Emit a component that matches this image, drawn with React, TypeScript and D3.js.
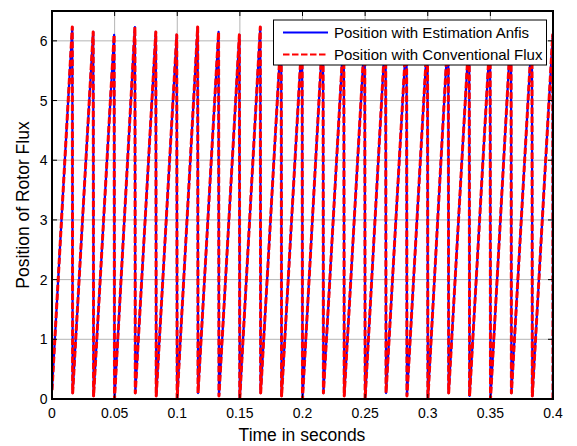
import React from "react";
import * as d3 from "d3";

const xTicks = [0, 0.05, 0.1, 0.15, 0.2, 0.25, 0.3, 0.35, 0.4];
const yTicks = [0, 1, 2, 3, 4, 5, 6];
const startValue = 0.15;
const peakTimes = [
  0.0162, 0.0329, 0.0496, 0.0662, 0.0829, 0.0996, 0.1163, 0.133, 0.1496, 0.1663, 0.183, 0.1997,
  0.2164, 0.233, 0.2497, 0.2664, 0.2831, 0.2998, 0.3164, 0.3331, 0.3498, 0.3665, 0.3832, 0.3998,
];
const peakValues = [
  6.23, 6.15, 6.1, 6.23, 6.15, 6.1, 6.23, 6.15, 6.1, 6.23, 6.15, 6.1,
  6.23, 6.15, 6.1, 6.23, 6.15, 6.1, 6.23, 6.15, 6.1, 6.23, 6.15, 6.1,
];
const resetTimes = [
  0.0165, 0.0332, 0.0499, 0.0665, 0.0832, 0.0999, 0.1166, 0.1333, 0.1499, 0.1666, 0.1833, 0.2,
  0.2167, 0.2333, 0.25, 0.2667, 0.2834, 0.3001, 0.3167, 0.3334, 0.3501, 0.3668, 0.3835, 0.4,
];
const resetValues = [
  0.1, 0.05, 0.0, 0.1, 0.05, 0.0, 0.1, 0.05, 0.0, 0.1, 0.05, 0.0,
  0.1, 0.05, 0.0, 0.1, 0.05, 0.0, 0.1, 0.05, 0.0, 0.1, 0.05, 0.0,
];
const legendLabels = ["Position with Estimation Anfis", "Position with Conventional Flux"];
const xLabel = "Time in seconds";
const yLabel = "Position of Rotor Flux";

type P = [number, number];
const series: P[] = [[0, startValue]];
peakTimes.forEach((t, i) => {
  series.push([t, peakValues[i]]);
  series.push([resetTimes[i], resetValues[i]]);
});

const W = 577;
const H = 446;
const L = 52, R = 553, T = 11, B = 399;
const FONT = "'Liberation Sans', Arial, sans-serif";

export default function App() {
  const x = d3.scaleLinear().domain([0, 0.4]).range([L, R]);
  const y = d3.scaleLinear().domain([0, 6.5]).range([B, T]);
  const line = d3.line<P>().x((d) => x(d[0])).y((d) => y(d[1]));
  const path = line(series) || "";
  const tl = 5;
  return (
    <svg width={W} height={H} style={{ position: "absolute", left: 0, top: 0, background: "#fff" }}>
      <defs>
        <clipPath id="plotclip">
          <rect x={L} y={T} width={R - L} height={B - T} />
        </clipPath>
      </defs>
      <rect x={0} y={0} width={W} height={H} fill="#fff" />
      {xTicks.slice(1, -1).map((t) => (
        <line key={"gx" + t} x1={x(t)} x2={x(t)} y1={T} y2={B} stroke="#b4b4b4" strokeWidth={1} />
      ))}
      {yTicks.slice(1).map((t) => (
        <line key={"gy" + t} x1={L} x2={R} y1={y(t)} y2={y(t)} stroke="#b4b4b4" strokeWidth={1} />
      ))}
      <g clipPath="url(#plotclip)">
        <path d={path} fill="none" stroke="#0000ff" strokeWidth={2.2} strokeLinejoin="round" />
        <path d={path} fill="none" stroke="#ff0000" strokeWidth={3} strokeDasharray="6.5 2.5" strokeLinejoin="round" />
      </g>
      {xTicks.map((t) => (
        <g key={"tx" + t}>
          <line x1={x(t)} x2={x(t)} y1={B} y2={B - tl} stroke="#000" strokeWidth={1} />
          <line x1={x(t)} x2={x(t)} y1={T} y2={T + tl} stroke="#000" strokeWidth={1} />
          <text x={x(t)} y={418} textAnchor="middle" fontFamily={FONT} fontSize={14} fill="#000">
            {String(t)}
          </text>
        </g>
      ))}
      {yTicks.map((t) => (
        <g key={"ty" + t}>
          <line x1={L} x2={L + tl} y1={y(t)} y2={y(t)} stroke="#000" strokeWidth={1} />
          <line x1={R} x2={R - tl} y1={y(t)} y2={y(t)} stroke="#000" strokeWidth={1} />
          <text x={47.5} y={y(t) + 5} textAnchor="end" fontFamily={FONT} fontSize={14} fill="#000">
            {String(t)}
          </text>
        </g>
      ))}
      <rect x={L} y={T} width={R - L} height={B - T} fill="none" stroke="#000" strokeWidth={2} />
      <rect x={273.5} y={20} width={273} height={45} fill="#fff" stroke="#000" strokeWidth={1} />
      <line x1={283} x2={328} y1={32.5} y2={32.5} stroke="#0000ff" strokeWidth={2} />
      <line x1={283} x2={328} y1={54.5} y2={54.5} stroke="#ff0000" strokeWidth={2} strokeDasharray="6.5 2.5" />
      <text x={334} y={37.5} fontFamily={FONT} fontSize={15} fill="#000">{legendLabels[0]}</text>
      <text x={334} y={59.5} fontFamily={FONT} fontSize={15} fill="#000">{legendLabels[1]}</text>
      <text x={302} y={441} textAnchor="middle" fontFamily={FONT} fontSize={17.5} fill="#000">{xLabel}</text>
      <text
        transform={`translate(29,${(T + B) / 2}) rotate(-90)`}
        textAnchor="middle"
        fontFamily={FONT}
        fontSize={17.5}
        fill="#000"
      >
        {yLabel}
      </text>
    </svg>
  );
}
